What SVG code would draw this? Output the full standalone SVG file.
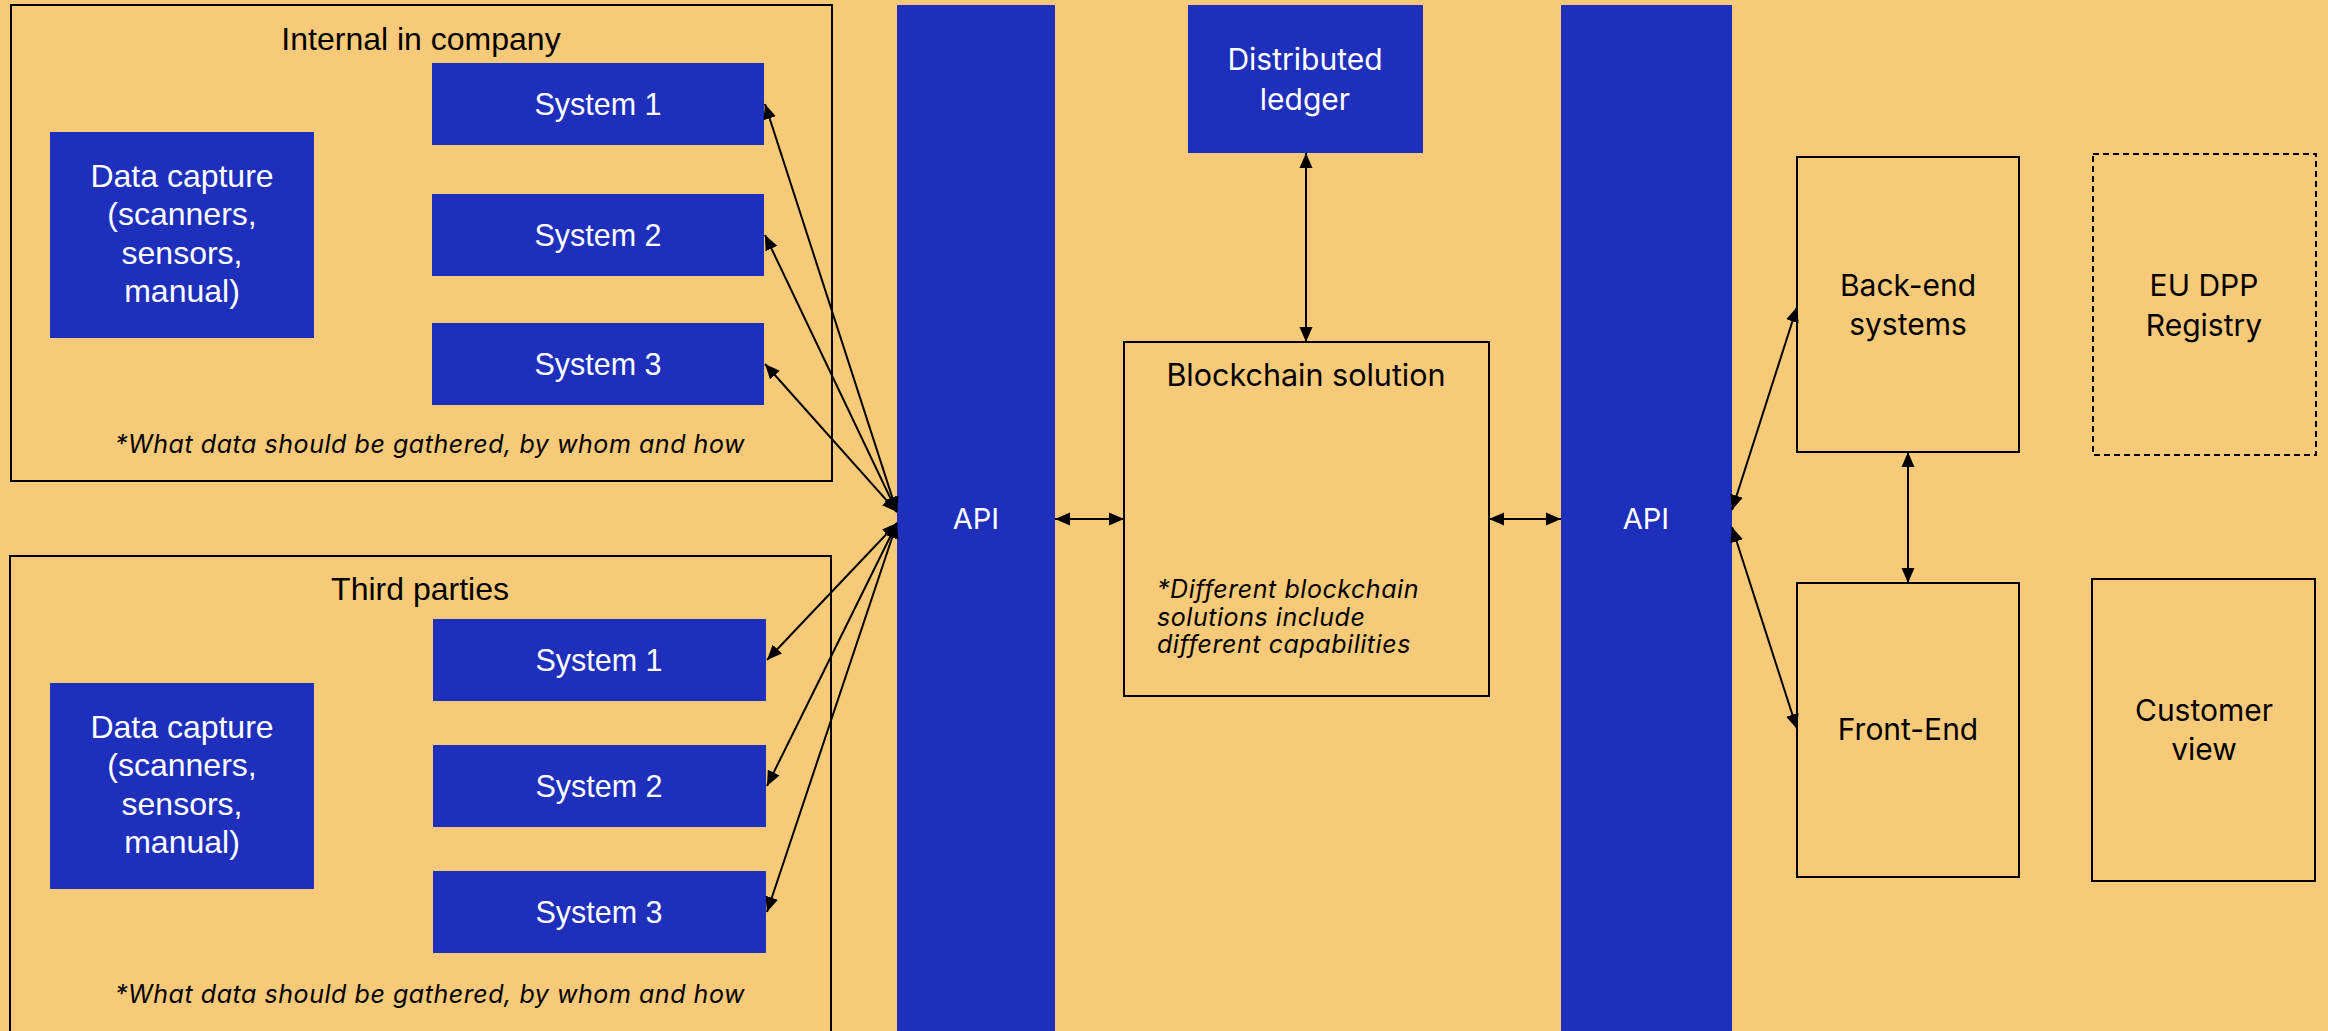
<svg xmlns="http://www.w3.org/2000/svg" width="2328" height="1031" viewBox="0 0 2328 1031">
<defs>
<style>
.bg{fill:#F7CA7A}
.blue{fill:#1E2FBB}
.frame{fill:none;stroke:#000;stroke-width:2}
.dash{fill:none;stroke:#000;stroke-width:2;stroke-dasharray:6 4}
.lw{font-family:"Liberation Sans",Arial,sans-serif;fill:#fff;text-anchor:middle}
.lb{font-family:"Liberation Sans",Arial,sans-serif;fill:#000;text-anchor:middle}
.rw{font-family:Inter,"Liberation Sans",sans-serif;fill:#fff;text-anchor:middle}
.rb{font-family:Inter,"Liberation Sans",sans-serif;fill:#000;text-anchor:middle}
.note{font-family:Inter,"Liberation Sans",sans-serif;font-style:italic;fill:#000;font-size:25px;letter-spacing:0.55px}
.conn line{stroke:#000;stroke-width:2;marker-start:url(#ah);marker-end:url(#ah)}
</style>
<marker id="ah" markerUnits="userSpaceOnUse" markerWidth="16" markerHeight="14" refX="15" refY="7" orient="auto-start-reverse">
<path d="M0,0.5 L15,7 L0,13.5 z" fill="#000"/>
</marker>
</defs>
<rect class="bg" x="0" y="0" width="2328" height="1031"/>

<g id="internal-group">
<rect class="frame" x="11" y="5" width="821" height="476"/>
<text class="lb" x="421" y="50" font-size="32">Internal in company</text>
<text class="note" x="430" y="453" text-anchor="middle">*What data should be gathered, by whom and how</text>
</g>
<g id="internal-data-capture">
<rect class="blue" x="50" y="132" width="264" height="206"/>
<text class="lw" font-size="32"><tspan x="182" y="187">Data capture</tspan><tspan x="182" y="225">(scanners,</tspan><tspan x="182" y="264">sensors,</tspan><tspan x="182" y="302">manual)</tspan></text>
</g>
<g id="internal-system-1">
<rect class="blue" x="432" y="63" width="332" height="82"/>
<text class="lw" x="598" y="115" font-size="30.5">System 1</text>
</g>
<g id="internal-system-2">
<rect class="blue" x="432" y="194" width="332" height="82"/>
<text class="lw" x="598" y="246" font-size="30.5">System 2</text>
</g>
<g id="internal-system-3">
<rect class="blue" x="432" y="323" width="332" height="82"/>
<text class="lw" x="598" y="375" font-size="30.5">System 3</text>
</g>

<g id="third-parties-group">
<rect class="frame" x="10" y="556" width="821" height="490"/>
<text class="lb" x="420" y="600" font-size="32">Third parties</text>
<text class="note" x="430" y="1003" text-anchor="middle">*What data should be gathered, by whom and how</text>
</g>
<g id="third-data-capture">
<rect class="blue" x="50" y="683" width="264" height="206"/>
<text class="lw" font-size="32"><tspan x="182" y="738">Data capture</tspan><tspan x="182" y="776">(scanners,</tspan><tspan x="182" y="815">sensors,</tspan><tspan x="182" y="853">manual)</tspan></text>
</g>
<g id="third-system-1">
<rect class="blue" x="433" y="619" width="333" height="82"/>
<text class="lw" x="599" y="671" font-size="30.5">System 1</text>
</g>
<g id="third-system-2">
<rect class="blue" x="433" y="745" width="333" height="82"/>
<text class="lw" x="599" y="797" font-size="30.5">System 2</text>
</g>
<g id="third-system-3">
<rect class="blue" x="433" y="871" width="333" height="82"/>
<text class="lw" x="599" y="923" font-size="30.5">System 3</text>
</g>

<g id="api-left">
<rect class="blue" x="897" y="5" width="158" height="1030"/>
<text class="rw" x="976" y="529" font-size="29">API</text>
</g>
<g id="distributed-ledger">
<rect class="blue" x="1188" y="5" width="235" height="148"/>
<text class="rw" font-size="30"><tspan x="1305" y="70">Distributed</tspan><tspan x="1305" y="110">ledger</tspan></text>
</g>
<g id="blockchain-solution">
<rect class="frame" x="1124" y="342" width="365" height="354"/>
<text class="rb" x="1306" y="386" font-size="30.5">Blockchain solution</text>
<text class="note"><tspan x="1157" y="598">*Different blockchain</tspan><tspan x="1157" y="626">solutions include</tspan><tspan x="1157" y="653">different capabilities</tspan></text>
</g>
<g id="api-right">
<rect class="blue" x="1561" y="5" width="171" height="1030"/>
<text class="rw" x="1646" y="529" font-size="29">API</text>
</g>
<g id="back-end-systems">
<rect class="frame" x="1797" y="157" width="222" height="295"/>
<text class="rb" font-size="30"><tspan x="1908" y="296">Back-end</tspan><tspan x="1908" y="335">systems</tspan></text>
</g>
<g id="front-end">
<rect class="frame" x="1797" y="583" width="222" height="294"/>
<text class="rb" x="1908" y="740" font-size="30">Front-End</text>
</g>
<g id="eu-dpp-registry">
<rect class="dash" x="2093" y="154" width="223" height="301"/>
<text class="rb" font-size="30"><tspan x="2204" y="296">EU DPP</tspan><tspan x="2204" y="336">Registry</tspan></text>
</g>
<g id="customer-view">
<rect class="frame" x="2092" y="579" width="223" height="302"/>
<text class="rb" font-size="30"><tspan x="2204" y="721">Customer</tspan><tspan x="2204" y="760">view</tspan></text>
</g>

<g id="connectors" class="conn">
<line x1="897" y1="512" x2="765" y2="104"/>
<line x1="897" y1="512" x2="765" y2="235"/>
<line x1="897" y1="512" x2="765" y2="364"/>
<line x1="897" y1="523" x2="767" y2="660"/>
<line x1="897" y1="523" x2="767" y2="786"/>
<line x1="897" y1="523" x2="767" y2="912"/>
<line x1="1055" y1="519" x2="1124" y2="519"/>
<line x1="1489" y1="519" x2="1561" y2="519"/>
<line x1="1306" y1="153" x2="1306" y2="342"/>
<line x1="1732" y1="510" x2="1797" y2="307"/>
<line x1="1732" y1="527" x2="1797" y2="729"/>
<line x1="1908" y1="452" x2="1908" y2="583"/>
</g>
</svg>
